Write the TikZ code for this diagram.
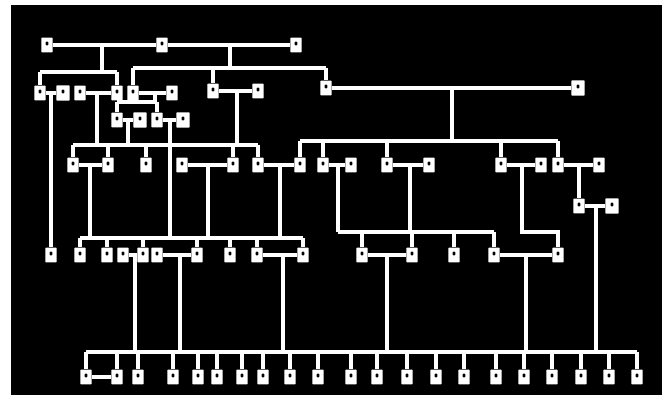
\documentclass[tikz,border=0pt]{standalone}
\begin{document}
\begin{tikzpicture}[x=0.03cm,y=-0.03cm,
  ln/.style={draw=white,line width=3.2pt},
  ind/.style={rectangle,fill=white,inner sep=0pt,minimum width=0.34cm,minimum height=0.44cm,rounded corners=0.6pt,
    path picture={\fill[black] ([xshift=-0.04cm,yshift=-0.01cm]path picture bounding box.center) rectangle ([xshift=0.04cm,yshift=0.10cm]path picture bounding box.center);}},
  sq/.style={ind,minimum width=0.40cm,minimum height=0.46cm}]
\useasboundingbox (0,0) rectangle (668,404);
\fill[white] (0,0) rectangle (668,404);
\fill[black] (11,5) rectangle (662,395);
% generation 1
\node[ind] (a1) at (47,45) {};
\node[ind] (a2) at (162,45) {};
\node[ind] (a3) at (296,45) {};
% generation 2
\node[ind] (b1) at (40,93) {};
\node[sq]  (b2) at (63,93) {};
\node[ind] (b3) at (80,93) {};
\node[ind] (b4) at (117,93) {};
\node[ind] (b5) at (133,93) {};
\node[ind] (b6) at (172,93) {};
\node[ind] (b7) at (213,91) {};
\node[ind] (b8) at (258,91) {};
\node[ind] (b9) at (326,88) {};
\node[sq]  (b10) at (578,88) {};
\node[ind] (c1) at (117,120) {};
\node[sq]  (c2) at (140,120) {};
\node[ind] (c3) at (157,120) {};
\node[sq]  (c4) at (183,120) {};
% generation 3
\foreach \n/\x in {1/73,2/108,3/146,4/182,5/233,6/258,7/300,8/323,9/351,10/387,11/429,12/501,13/541,14/558,15/599}
  \node[ind] (e\n) at (\x,165) {};
\node[ind] (f1) at (579,206) {};
\node[sq]  (f2) at (612,206) {};
% generation 4
\foreach \n/\x in {1/51,2/80,3/107,4/123,5/143,6/157,7/197,8/230,9/257,10/303,11/362,12/412,13/454,14/494,15/558}
  \node[ind] (g\n) at (\x,255) {};
% generation 5
\foreach \n/\x in {1/86,2/117,3/138,4/173,5/198,6/217,7/242,8/263,9/290,10/318,11/351,12/377,13/407,14/436,15/464,16/496,17/524,18/552,19/581,20/609,21/637}
  \node[ind] (h\n) at (\x,377) {};
% level coordinates
\coordinate (L72) at (0,72);
\coordinate (L68) at (0,68);
\coordinate (L102) at (0,102);
\coordinate (L145) at (0,145);
\coordinate (L141) at (0,141);
\coordinate (L238) at (0,238);
\coordinate (L232) at (0,232);
\coordinate (L352) at (0,352);
% gen 1 couples
\draw[ln] (a1) -- (a2) -- (a3);
\coordinate (m1) at (102,45);
\coordinate (m2) at (230,45);
\draw[ln] (m1) -- (m1 |- L72);
\draw[ln] (b1 |- L72) -- (b4 |- L72);
\draw[ln] (b1 |- L72) -- (b1);
\draw[ln] (b4 |- L72) -- (b4);
\draw[ln] (m2) -- (m2 |- L68);
\draw[ln] (b5 |- L68) -- (b9 |- L68);
\foreach \p in {b5,b7,b9} \draw[ln] (\p |- L68) -- (\p);
% gen 2 couples
\draw[ln] (b1) -- (b2);
\coordinate (m3) at (51,93);
\draw[ln] (m3) -- (g1);
\draw[ln] (b3) -- (b4);
\coordinate (m4) at (97,93);
\draw[ln] (m4) -- (m4 |- L145);
\draw[ln] (b5) -- (b6);
\coordinate (m5) at (155,93);
\draw[ln] (m5) -- (m5 |- L102);
\draw[ln] (c1 |- L102) -- (c3 |- L102);
\draw[ln] (c1 |- L102) -- (c1);
\draw[ln] (c3 |- L102) -- (c3);
\draw[ln] (c1) -- (c2);
\coordinate (m6) at (128,120);
\draw[ln] (m6) -- (m6 |- L145);
\draw[ln] (c3) -- (c4);
\coordinate (m7) at (170,120);
\draw[ln] (m7) -- (m7 |- L238);
\draw[ln] (b7) -- (b8);
\coordinate (m8) at (237,91);
\draw[ln] (m8) -- (m8 |- L145);
\draw[ln] (b9) -- (b10);
\coordinate (m9) at (452,88);
\draw[ln] (m9) -- (m9 |- L141);
% gen 3 sibships
\draw[ln] (e1 |- L145) -- (e6 |- L145);
\foreach \p in {e1,e2,e3,e5,e6} \draw[ln] (\p |- L145) -- (\p);
\draw[ln] (e7 |- L141) -- (e14 |- L141);
\foreach \p in {e7,e8,e10,e12,e14} \draw[ln] (\p |- L141) -- (\p);
% gen 3 couples
\draw[ln] (e1) -- (e2);
\coordinate (n1) at (90,165);
\draw[ln] (n1) -- (n1 |- L238);
\draw[ln] (e4) -- (e5);
\coordinate (n2) at (208,165);
\draw[ln] (n2) -- (n2 |- L238);
\draw[ln] (e6) -- (e7);
\coordinate (n3) at (280,165);
\draw[ln] (n3) -- (n3 |- L238);
\draw[ln] (e8) -- (e9);
\coordinate (n4) at (338,165);
\draw[ln] (n4) -- (n4 |- L232);
\draw[ln] (e10) -- (e11);
\coordinate (n5) at (410,165);
\draw[ln] (n5) -- (n5 |- L232);
\draw[ln] (e12) -- (e13);
\coordinate (n6) at (522,165);
\draw[ln] (n6) -- (n6 |- L232) -- (g15 |- L232) -- (g15);
\draw[ln] (e14) -- (e15);
\coordinate (n7) at (579,165);
\draw[ln] (n7) -- (f1);
\draw[ln] (f1) -- (f2);
\coordinate (n8) at (596,206);
\draw[ln] (n8) -- (n8 |- L352);
% gen 4 sibships
\draw[ln] (g2 |- L238) -- (g10 |- L238);
\foreach \p in {g2,g3,g5,g7,g8,g9,g10} \draw[ln] (\p |- L238) -- (\p);
\draw[ln] (n4 |- L232) -- (g14 |- L232);
\foreach \p in {g11,g12,g13,g14} \draw[ln] (\p |- L232) -- (\p);
% gen 4 couples
\draw[ln] (g4) -- (g5);
\coordinate (k1) at (135,255);
\draw[ln] (k1) -- (k1 |- L352);
\draw[ln] (g6) -- (g7);
\coordinate (k2) at (180,255);
\draw[ln] (k2) -- (k2 |- L352);
\draw[ln] (g9) -- (g10);
\coordinate (k3) at (283,255);
\draw[ln] (k3) -- (k3 |- L352);
\draw[ln] (g11) -- (g12);
\coordinate (k4) at (387,255);
\draw[ln] (k4) -- (k4 |- L352);
\draw[ln] (g14) -- (g15);
\coordinate (k5) at (526,255);
\draw[ln] (k5) -- (k5 |- L352);
% gen 5 sibship
\draw[ln] (h1 |- L352) -- (h21 |- L352);
\foreach \n in {1,...,21} \draw[ln] (h\n |- L352) -- (h\n);
\draw[ln] (h1) -- (h2);
\end{tikzpicture}
\end{document}
